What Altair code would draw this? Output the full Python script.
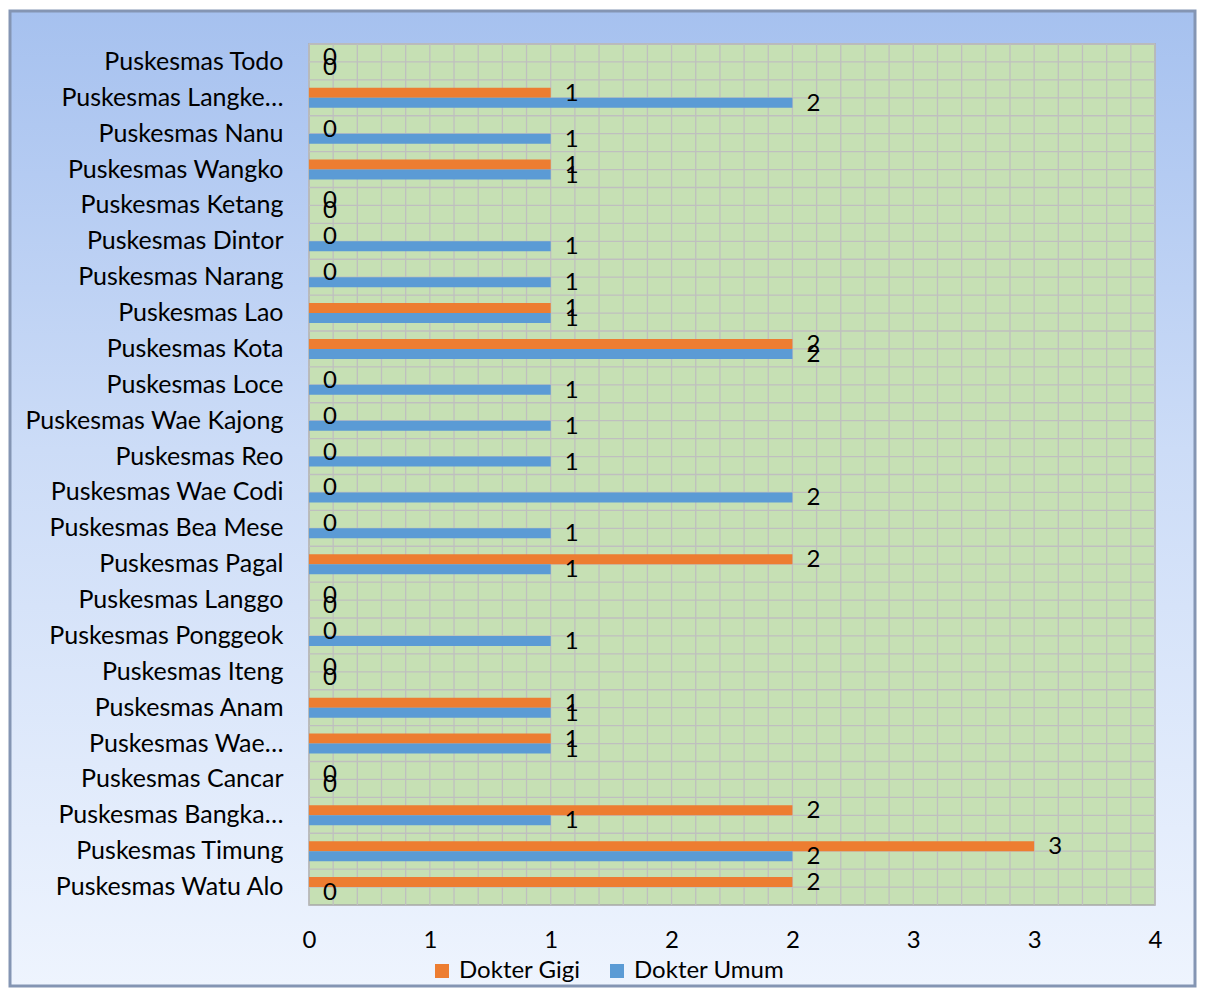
import altair as alt
import pandas as pd

categories = [
    "Puskesmas Todo", "Puskesmas Langke…", "Puskesmas Nanu", "Puskesmas Wangko",
    "Puskesmas Ketang", "Puskesmas Dintor", "Puskesmas Narang", "Puskesmas Lao",
    "Puskesmas Kota", "Puskesmas Loce", "Puskesmas Wae Kajong\u00a0", "Puskesmas Reo",
    "Puskesmas Wae Codi", "Puskesmas Bea Mese", "Puskesmas Pagal", "Puskesmas Langgo",
    "Puskesmas Ponggeok", "Puskesmas Iteng", "Puskesmas Anam", "Puskesmas Wae…",
    "Puskesmas Cancar", "Puskesmas Bangka…", "Puskesmas Timung", "Puskesmas Watu Alo",
]
dokter_gigi = [0, 1, 0, 1, 0, 0, 0, 1, 2, 0, 0, 0, 0, 0, 2, 0, 0, 0, 1, 1, 0, 2, 3, 2]
dokter_umum = [0, 2, 1, 1, 0, 1, 1, 1, 2, 1, 1, 1, 2, 1, 1, 0, 1, 0, 1, 1, 0, 1, 2, 0]
series = ["Dokter Gigi", "Dokter Umum"]
colors = ["#ED7D31", "#5B9BD5"]
x_ticks = [0, 0.5, 1, 1.5, 2, 2.5, 3, 3.5]
x_minor = [round(i * 0.1, 1) for i in range(36)]

rows = []
for c, g, u in zip(categories, dokter_gigi, dokter_umum):
    rows.append({"cat": c, "series": series[0], "value": g})
    rows.append({"cat": c, "series": series[1], "value": u})
df = pd.DataFrame(rows)
cat_df = pd.DataFrame({"cat": categories})
minor_df = pd.DataFrame({"value": x_minor})
one = pd.DataFrame({"a": [0]})

W, H = 846, 861
FONT = "Lato"
FS = 24

xscale = alt.Scale(domain=[0, 3.5], nice=False, zero=True)
yscale = alt.Scale(paddingInner=0, paddingOuter=0)
off_scale = alt.Scale(paddingInner=0, paddingOuter=0.794)

x_axis = alt.Axis(
    values=x_ticks, format=".0f", title=None, grid=False, domain=False,
    ticks=False, tickSize=0, labelFontSize=FS, labelFont=FONT, labelColor="#000000",
    labelPadding=23, labelFlush=False, zindex=1,
)
y_axis = alt.Axis(
    title=None, grid=False, domain=False, ticks=False, tickSize=0,
    labelFontSize=25, labelFont=FONT, labelColor="#000000", labelPadding=26,
    labelLimit=400, zindex=1,
)

bg = alt.Chart(one).mark_rect(
    fill=alt.Gradient(
        gradient="linear",
        stops=[
            alt.GradientStop(color="#A6C1EF", offset=0),
            alt.GradientStop(color="#CCDCF7", offset=0.45),
            alt.GradientStop(color="#EEF4FE", offset=1),
        ],
        x1=0, x2=0, y1=0, y2=1,
    ),
    stroke="#8495B3",
    strokeWidth=3,
).encode(x=alt.value(-299), x2=alt.value(W + 40), y=alt.value(-33), y2=alt.value(H + 81))

plot_bg = alt.Chart(one).mark_rect(fill="#C6E0B4", stroke="#A6A6A6", strokeWidth=1.5).encode(
    x=alt.value(0), x2=alt.value(W), y=alt.value(0), y2=alt.value(H)
)

vgrid = alt.Chart(minor_df).mark_rule(color="#BFBFBF", strokeWidth=1.3).encode(
    x=alt.X("value:Q", scale=xscale, axis=x_axis)
)
hgrid0 = alt.Chart(cat_df).mark_rule(color="#BFBFBF", strokeWidth=1.3).encode(
    y=alt.Y("cat:N", sort=categories, scale=yscale, bandPosition=0, axis=y_axis)
)
hgrid5 = alt.Chart(cat_df).mark_rule(color="#BFBFBF", strokeWidth=1.3).encode(
    y=alt.Y("cat:N", sort=categories, scale=yscale, bandPosition=0.5, axis=y_axis)
)

bars = alt.Chart(df).mark_bar().encode(
    x=alt.X("value:Q", scale=xscale, axis=x_axis),
    y=alt.Y("cat:N", sort=categories, scale=yscale, axis=y_axis),
    yOffset=alt.YOffset("series:N", sort=series, scale=off_scale),
    color=alt.Color(
        "series:N", sort=series,
        scale=alt.Scale(domain=series, range=colors),
        legend=alt.Legend(
            title=None, orient="none", direction="horizontal", legendX=121, legendY=915,
            symbolType="square", symbolSize=196, symbolStrokeWidth=0, labelFontSize=FS,
            labelFont=FONT, labelColor="#000000", columnPadding=24, labelOffset=5,
        ),
    ),
)

labels = alt.Chart(df).mark_text(
    align="center", baseline="middle", dx=21, dy=1, fontSize=FS, font=FONT, color="#000000"
).encode(
    x=alt.X("value:Q", scale=xscale, axis=x_axis),
    y=alt.Y("cat:N", sort=categories, scale=yscale, axis=y_axis),
    yOffset=alt.YOffset("series:N", sort=series, scale=off_scale),
    text=alt.Text("value:Q", format="d"),
)

chart = alt.layer(bg, plot_bg, vgrid, hgrid0, hgrid5, bars, labels).properties(
    width=W,
    height=H,
    padding={"left": 301, "top": 36, "right": 42, "bottom": 84},
    autosize=alt.AutoSizeParams(type="none"),
    background="#FFFFFF",
).configure_view(stroke=None)

chart.save("out.html", embed_options={"renderer": "svg", "actions": False})
